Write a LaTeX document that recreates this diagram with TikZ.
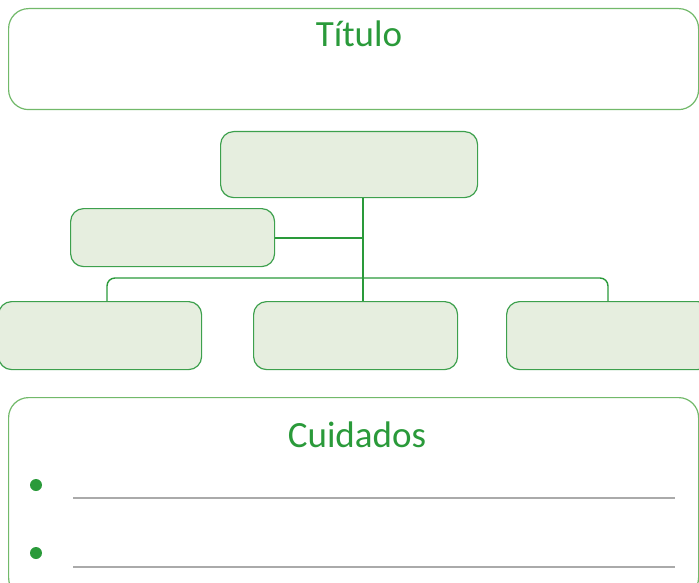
\documentclass[tikz,border=0pt]{standalone}
\usepackage{fontspec}
\setmainfont{Carlito}
\usetikzlibrary{positioning,calc}
\definecolor{verde}{HTML}{2A9A3A}
\definecolor{verdeclaro}{HTML}{72B96A}
\definecolor{verdeborda}{HTML}{3DA04D}
\definecolor{verdefundo}{HTML}{E6EEDF}
\definecolor{cinzalinha}{HTML}{AAAAAA}

\begin{document}
\begin{tikzpicture}[
  x=1pt, y=-1pt,
  panel/.style={draw=verdeclaro, line width=1.2pt, rounded corners=20pt,
    anchor=north west, inner sep=0pt, minimum width=690pt},
  caixa/.style={draw=verdeborda, fill=verdefundo, line width=1.2pt,
    rounded corners=13pt, anchor=north west, inner sep=0pt},
  titulo/.style={text=verde, anchor=base, inner sep=0pt,
    font=\fontsize{37}{40}\selectfont},
  ligacao/.style={draw=verde, line width=2pt},
  barra/.style={draw=verde, line width=1.4pt, rounded corners=8pt},
  marcador/.style={circle, fill=verde, inner sep=0pt, minimum size=12pt},
  pauta/.style={draw=cinzalinha, line width=2pt}
]
  \useasboundingbox (0,0) rectangle (699,583);
  \clip (0,0) rectangle (699,583);

  % title panel
  \node[panel, minimum height=101pt] (painel) at (8,8) {};
  \node[titulo] (tit) at (359,47) {Título};

  % chart boxes
  \node[caixa, minimum width=257pt, minimum height=66pt] (topo) at (220,131) {};
  \node[caixa, minimum width=204pt, minimum height=58pt] (lado) at (70,208) {};
  \node[caixa, minimum width=203pt, minimum height=68pt] (baixoA) at (-2,301) {};
  \node[caixa, minimum width=204pt, minimum height=68pt] (baixoB) at (253,301) {};
  \node[caixa, minimum width=204pt, minimum height=68pt] (baixoC) at (506,301) {};

  \coordinate (tronco) at ($(topo.south west)+(143,0)$);
  \coordinate (ramoE) at ($(baixoA.north west)+(109,0)$);
  \coordinate (ramoD) at ($(baixoC.north west)+(102,0)$);

  \draw[barra] (ramoE) -- ++(0,-23) -| (ramoD);
  \draw[ligacao] (tronco) -- (tronco |- baixoB.north);
  \draw[ligacao] (lado.east) -- (lado.east -| tronco);

  % care panel
  \node[panel, minimum height=200pt] (cuidados) at (8,397) {};
  \node[titulo] (cuid) at (357,447) {Cuidados};

  \node[marcador] (m1) at (36,485) {};
  \node[marcador] (m2) at (36,553) {};
  \draw[pauta] (73,498) -- (675,498);
  \draw[pauta] (73,567) -- (675,567);
\end{tikzpicture}
\end{document}
